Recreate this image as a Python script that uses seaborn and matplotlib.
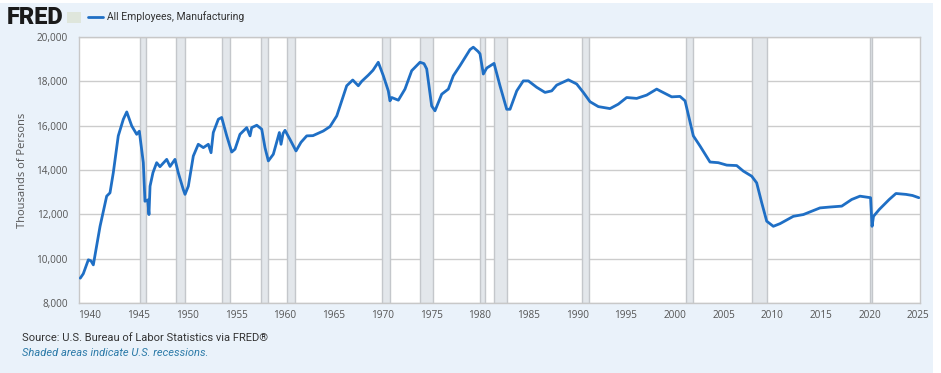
import numpy as np
import pandas as pd
import matplotlib
matplotlib.use("Agg")
import matplotlib.pyplot as plt
import matplotlib.ticker as mticker
from matplotlib.patches import Rectangle
import seaborn as sns

# All Employees, Manufacturing (thousands)
years = [1939.0, 1939.31, 1939.83, 1940.10, 1940.34, 1941.03, 1941.71, 1942.05,
         1942.39, 1942.90, 1943.42, 1943.77, 1944.28, 1944.79, 1945.06, 1945.47,
         1945.64, 1945.92, 1946.05, 1946.16, 1946.46, 1946.84, 1947.18, 1947.87,
         1948.21, 1948.72, 1949.06, 1949.57, 1949.75, 1950.09, 1950.60, 1951.11,
         1951.63, 1952.14, 1952.42, 1952.65, 1953.17, 1953.51, 1954.03, 1954.54,
         1954.88, 1955.39, 1956.08, 1956.42, 1956.59, 1957.11, 1957.62, 1957.96,
         1958.30, 1958.81, 1959.43, 1959.60, 1959.81, 1960.01, 1960.52, 1961.14,
         1961.65, 1962.24, 1962.88, 1963.94, 1964.63, 1965.32, 1965.83, 1966.34,
         1966.96, 1967.53, 1967.88, 1968.56, 1969.04, 1969.58, 1969.76, 1970.10,
         1970.61, 1970.78, 1970.96, 1971.64, 1972.32, 1973.01, 1973.86, 1974.27,
         1974.55, 1975.06, 1975.40, 1976.09, 1976.77, 1977.28, 1977.97, 1978.99,
         1979.33, 1979.82, 1980.02, 1980.36, 1980.71, 1981.46, 1982.07, 1982.76,
         1983.10, 1983.79, 1984.46, 1984.98, 1985.84, 1986.69, 1987.38, 1987.89,
         1989.08, 1989.94, 1990.62, 1991.31, 1992.16, 1993.36, 1994.21, 1995.07,
         1996.10, 1997.13, 1998.15, 1998.49, 1999.69, 2000.54, 2001.06, 2001.74,
         2001.91, 2002.60, 2003.62, 2004.47, 2005.34, 2006.36, 2007.04, 2007.90,
         2008.41, 2008.93, 2009.44, 2010.12, 2010.81, 2012.17, 2013.20, 2014.91,
         2015.94, 2017.14, 2018.16, 2019.01, 2020.10, 2020.25, 2020.40, 2020.99,
         2022.01, 2022.70, 2023.73, 2024.40, 2025.05]
employees = [9120, 9320, 9950, 9900, 9720, 11460, 12820, 12970,
             13880, 15540, 16290, 16620, 15990, 15610, 15750, 14330,
             12590, 12650, 11990, 13270, 13880, 14330, 14150, 14480,
             14160, 14480, 13870, 13120, 12900, 13270, 14630, 15160,
             15010, 15160, 14780, 15690, 16290, 16370, 15540, 14810,
             14940, 15610, 15910, 15540, 15910, 16020, 15840, 15000,
             14410, 14710, 15690, 15160, 15650, 15790, 15380, 14860,
             15250, 15540, 15550, 15760, 15960, 16440, 17120, 17800,
             18060, 17800, 18000, 18280, 18500, 18860, 18650, 18250,
             17570, 17120, 17270, 17150, 17650, 18480, 18860, 18800,
             18560, 16890, 16670, 17420, 17650, 18250, 18710, 19430,
             19540, 19350, 19240, 18330, 18600, 18810, 17800, 16740,
             16740, 17570, 18020, 18020, 17730, 17500, 17570, 17830,
             18070, 17880, 17500, 17080, 16860, 16770, 16970, 17270,
             17230, 17380, 17650, 17570, 17300, 17320, 17120, 15840,
             15540, 15080, 14360, 14330, 14220, 14200, 13950, 13720,
             13420, 12520, 11690, 11460, 11580, 11910, 11990, 12290,
             12330, 12370, 12670, 12820, 12750, 11460, 11910, 12220,
             12670, 12940, 12900, 12850, 12750]

# NBER recessions (start, end) in decimal years
rec_start = [1945.08, 1948.83, 1953.50, 1957.58, 1960.25, 1969.92, 1973.83,
             1980.00, 1981.50, 1990.50, 2001.17, 2007.92, 2020.08]
rec_end = [1945.75, 1949.75, 1954.33, 1958.25, 1961.08, 1970.83, 1975.17,
           1980.50, 1982.83, 1991.17, 2001.83, 2009.42, 2020.25]

year_ticks = list(range(1940, 2026, 5))
value_ticks = list(range(8000, 20001, 2000))

df = pd.DataFrame({"year": years, "employees": employees})

sns.set_theme(style="white")
plt.rcParams["font.family"] = ["Roboto", "DejaVu Sans"]

fig = plt.figure(figsize=(9.41, 3.73), dpi=100, facecolor="white")
# light blue FRED panel background (behind everything)
fig.patches.append(Rectangle((0, 0), 933 / 941, 1 - 3 / 373, transform=fig.transFigure,
                             facecolor="#eaf2fa", edgecolor="none", zorder=-10))
ax = fig.add_axes([79 / 941, 1 - 303 / 373, (920 - 79) / 941, (303 - 37) / 373])
ax.set_facecolor("white")

for s, e in zip(rec_start, rec_end):
    ax.axvspan(s, e, facecolor="#e3e7eb", edgecolor="#c4c7cb", linewidth=1.0, zorder=1)

sns.lineplot(data=df, x="year", y="employees", ax=ax, color="#1f6fc5",
             linewidth=2.0, estimator=None, label="All Employees, Manufacturing", zorder=3)

ax.set_xlim(1938.87, 2025.17)
ax.set_ylim(8000, 20000)
ax.set_xticks(year_ticks)
ax.set_yticks(value_ticks)
ax.yaxis.set_major_formatter(mticker.FuncFormatter(lambda v, p: f"{int(v):,}"))
ax.grid(axis="y", color="#cccccc", linewidth=1.0, zorder=0)
ax.grid(axis="x", visible=False)
ax.tick_params(axis="x", length=3, color="#c8c8c8", labelsize=7.2, labelcolor="#555555", pad=2)
ax.tick_params(axis="y", length=0, labelsize=7.2, labelcolor="#555555", pad=8)
for lbl in ax.get_xticklabels() + ax.get_yticklabels():
    lbl.set_family(["Open Sans", "DejaVu Sans"])
for sp in ax.spines.values():
    sp.set_color("#c8c8c8")
    sp.set_linewidth(1.0)
ax.set_xlabel("")
ax.set_ylabel("Thousands of Persons", fontsize=8, color="#555555", labelpad=6,
              family=["Open Sans", "DejaVu Sans"])

# legend in header, next to the FRED logo
leg = ax.legend(loc="center left", bbox_to_anchor=(84 / 941, 1 - 17 / 373),
                bbox_transform=fig.transFigure, frameon=False, fontsize=7.5,
                handlelength=1.4, handletextpad=0.4, borderaxespad=0)
for t in leg.get_texts():
    t.set_color("#333333")

fig.text(7 / 941, 1 - 17 / 373, "FRED", fontsize=17, fontweight="black",
         color="#1a1a1a", va="center", ha="left")
fig.patches.append(Rectangle((67 / 941, 1 - 23 / 373), 14 / 941, 11 / 373,
                             transform=fig.transFigure, facecolor="#dfe6dc",
                             edgecolor="none", zorder=1))

fig.text(22 / 941, 1 - 338 / 373, "Source: U.S. Bureau of Labor Statistics via FRED®",
         fontsize=8, color="#333333", va="center", ha="left")
fig.text(22 / 941, 1 - 353 / 373, "Shaded areas indicate U.S. recessions.",
         fontsize=8, color="#2b7aa8", style="italic", va="center", ha="left")

fig.savefig("out.png", dpi=100, facecolor="white")
